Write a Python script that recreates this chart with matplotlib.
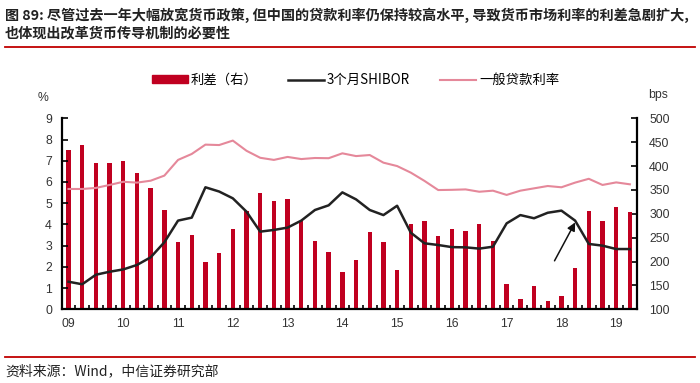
import numpy as np
import matplotlib
matplotlib.use('Agg')
from matplotlib import pyplot as plt
from matplotlib.lines import Line2D

# quarterly data, 2009Q1 - 2019Q2
years = ['09', '10', '11', '12', '13', '14', '15', '16', '17', '18', '19']
spread = [433, 444, 407, 406, 411, 386, 354, 307, 240, 255,
          199, 218, 268, 306, 343, 326, 331, 285, 243, 221,
          178, 204, 262, 240, 183, 278, 284, 254, 268, 264,
          279, 244, 153, 121, 149, 117, 128, 186, 306, 284,
          315, 304]  # bps, right axis
shibor = [1.30, 1.18, 1.63, 1.77, 1.88, 2.09, 2.45, 3.16, 4.18, 4.32,
          5.75, 5.55, 5.23, 4.60, 3.66, 3.74, 3.85, 4.18, 4.68, 4.90,
          5.51, 5.18, 4.68, 4.44, 4.88, 3.61, 3.11, 3.03, 2.93, 2.92,
          2.86, 2.95, 4.05, 4.44, 4.29, 4.55, 4.65, 4.18, 3.08, 3.00,
          2.84, 2.84]
loan_rate = [5.67, 5.67, 5.72, 5.86, 6.01, 5.97, 6.06, 6.30, 7.04, 7.32,
             7.76, 7.74, 7.95, 7.47, 7.14, 7.04, 7.18, 7.08, 7.13, 7.12,
             7.35, 7.22, 7.27, 6.91, 6.75, 6.44, 6.05, 5.62, 5.63, 5.65,
             5.54, 5.59, 5.39, 5.59, 5.70, 5.81, 5.75, 5.97, 6.15, 5.86,
             5.98, 5.89]
arrow_tail = (35.4, 2.17)
arrow_head = (37.1, 4.21)

cjk = ['Noto Sans CJK SC', 'DejaVu Sans']
num_font = 'Liberation Sans'
bar_color = '#C00020'
pink = '#E5889A'

x = np.arange(len(spread))

fig = plt.figure(figsize=(7, 3.83), dpi=100)
ax = fig.add_axes([0.0881, 0.1924, 0.8215, 0.4987])
ax2 = ax.twinx()

ax2.bar(x, spread, width=0.32, color=bar_color, zorder=2)
ax.plot(x, shibor, color='#222222', lw=1.8, zorder=3)
ax.plot(x, loan_rate, color=pink, lw=1.5, zorder=3)
ax.set_zorder(ax2.get_zorder() + 1)
ax.patch.set_visible(False)

ax.annotate('', xy=arrow_head, xytext=arrow_tail,
            arrowprops=dict(arrowstyle='-|>', color='#111111', lw=1.1,
                            mutation_scale=12))

ax.set_xlim(-0.5, len(x) - 0.5)
ax.set_ylim(0, 9)
ax2.set_ylim(100, 500)
ax.set_yticks(range(0, 10))
ax2.set_yticks(range(100, 501, 50))
ax.set_xticks(range(0, len(x), 4))
ax.set_xticklabels(years)
ax.set_xticks(np.arange(0.5, len(x) - 0.5, 1), minor=True)

for a in (ax, ax2):
    for s in a.spines.values():
        s.set_visible(False)
ax.spines['left'].set_visible(True)
ax.spines['bottom'].set_visible(True)
ax2.spines['right'].set_visible(True)
for s in (ax.spines['left'], ax.spines['bottom'], ax2.spines['right']):
    s.set_linewidth(1.6)
    s.set_color('black')

ax.tick_params(axis='y', direction='in', length=4, width=1.2, pad=7,
               labelsize=8.8, labelcolor='#333333')
ax2.tick_params(axis='y', direction='in', length=4, width=1.2, pad=9,
                labelsize=8.8, labelcolor='#333333')
ax.tick_params(axis='x', which='major', direction='in', length=0, pad=6,
               labelsize=8.8, labelcolor='#333333')
ax.tick_params(axis='x', which='minor', direction='in', length=3, width=1.2)
for lab in ax.get_xticklabels() + ax.get_yticklabels() + ax2.get_yticklabels():
    lab.set_fontfamily(num_font)

fig.text(43 / 700, 1 - 98 / 383, '%', fontsize=8.8, family=num_font,
         color='#333333', ha='center', va='center')
fig.text(658 / 700, 1 - 95 / 383, 'bps', fontsize=8.8, family=num_font,
         color='#333333', ha='center', va='center')

handles = [plt.Rectangle((0, 0), 1, 1, color=bar_color),
           Line2D([], [], color='#222222', lw=1.8),
           Line2D([], [], color=pink, lw=1.5)]
fig.legend(handles, ['利差（右）', '3个月SHIBOR', '一般贷款利率'],
           loc='center', bbox_to_anchor=(0.508, 1 - 80 / 383), ncol=3,
           frameon=False, handlelength=2.7, handleheight=0.5,
           handletextpad=0.2, columnspacing=2.3,
           prop={'family': cjk, 'size': 9.6})

# title and source
fig.text(0.007, 1 - 15 / 383,
         '图 89: 尽管过去一年大幅放宽货币政策, 但中国的贷款利率仍保持较高水平, 导致货币市场利率的利差急剧扩大,',
         fontsize=10.2, family=cjk, weight='bold', color='#222222', va='center')
fig.text(0.007, 1 - 33 / 383, '也体现出改革货币传导机制的必要性',
         fontsize=10.2, family=cjk, weight='bold', color='#222222', va='center')
fig.add_artist(Line2D([5 / 700, 695 / 700], [1 - 46.7 / 383] * 2,
                      color='#C00000', lw=1.3, transform=fig.transFigure))
fig.add_artist(Line2D([5 / 700, 695 / 700], [1 - 357 / 383] * 2,
                      color='#C00000', lw=1.3, transform=fig.transFigure))
fig.text(0.007, 1 - 371 / 383, '资料来源：Wind，中信证券研究部',
         fontsize=10, family=cjk, color='#222222', va='center')

fig.savefig('out.png', dpi=100)
